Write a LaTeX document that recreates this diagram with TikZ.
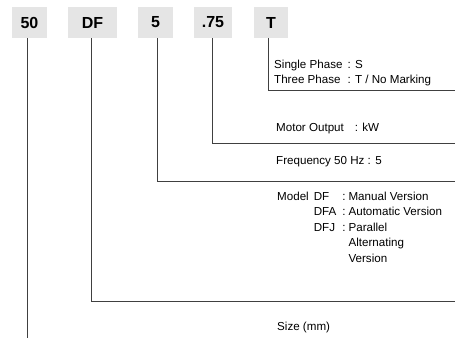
\documentclass[tikz,border=0pt]{standalone}
\usepackage{fontspec}
\setmainfont{Liberation Sans}
\usepackage{tikz}

\tikzset{
    codebox/.style={fill=gray!20, minimum height=31pt, inner sep=0pt, font=\fontsize{16}{16}\selectfont\bfseries},
    lead/.style={draw=black!75, line width=0.8pt},
    note/.style={anchor=west, inner sep=0pt, font=\fontsize{11.6}{15.5}\selectfont}
}

\begin{document}
\begin{tikzpicture}[x=1pt, y=-1pt]
    \useasboundingbox (0,0) rectangle (472,338);
    \node[codebox, minimum width=35pt] (b50) at (29.5,22.5) {50};
    \node[codebox, minimum width=49pt] (bDF) at (92.5,22.5) {DF};
    \node[codebox, minimum width=35pt] (b5) at (155.5,22.5) {5};
    \node[codebox, minimum width=38pt] (b75) at (213,22.5) {.75};
    \node[codebox, minimum width=34pt] (bT) at (271,22.5) {T};%
    \coordinate (eT) at (455,90);
    \coordinate (e75) at (455,143);
    \coordinate (e5) at (455,181);
    \coordinate (eDF) at (455,301);
    \coordinate (e50) at (27,338);%
    \draw[lead] ([xshift=-3pt]bT.south) |- (eT);
    \draw[lead] ([xshift=-1pt]b75.south) |- (e75);
    \draw[lead] ([xshift=1.5pt]b5.south) |- (e5);
    \draw[lead] ([xshift=-1.5pt]bDF.south) |- (eDF);
    \draw[lead] ([xshift=-2.5pt]b50.south) -- (e50);%
    \node[note] (phase) at (274,73) {\begin{tabular}{@{}l@{\hspace{5pt}}l@{}}
        Single Phase & : S\\
        Three Phase & : T / No Marking
    \end{tabular}};
    \node[note] (motor) at (276,128) {Motor Output\hspace{11pt}: kW};
    \node[note] (freq) at (276,162) {Frequency 50 Hz : 5};
    \node[note, anchor=north west] (model) at (277,189) {\begin{tabular}{@{}l@{\hspace{5pt}}l@{\hspace{6pt}}l@{\hspace{3pt}}l@{}}
        Model & DF & : & Manual Version\\
        & DFA & : & Automatic Version\\
        & DFJ & : & Parallel\\
        & & & Alternating\\
        & & & Version
    \end{tabular}};
    \node[note] (size) at (277,327) {Size (mm)};
\end{tikzpicture}
\end{document}
